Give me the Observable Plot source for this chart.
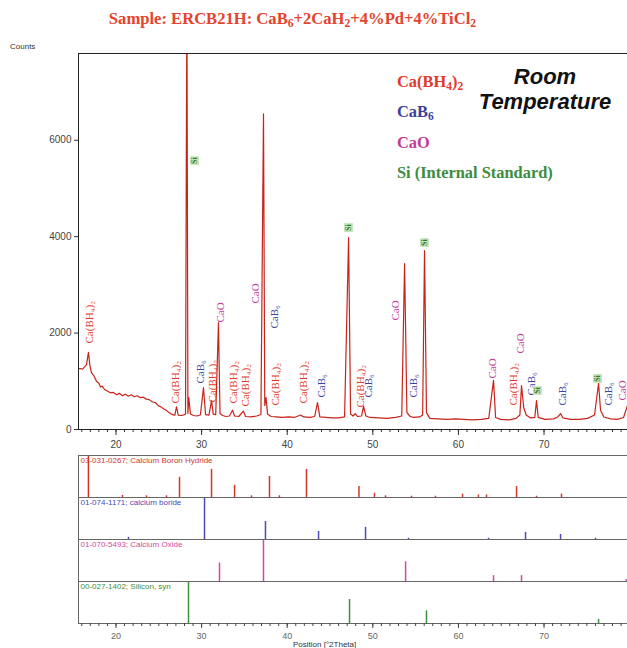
<!DOCTYPE html>
<html><head><meta charset="utf-8">
<script src="https://cdn.jsdelivr.net/npm/d3@7"></script>
<script src="https://cdn.jsdelivr.net/npm/@observablehq/plot@0.6"></script>
<style>
body{margin:0;background:#fff;width:627px;height:648px;position:relative;overflow:hidden;font-family:"Liberation Sans",Arial,sans-serif}
.abs{position:absolute;white-space:nowrap}
#title{left:0;width:585px;top:9px;text-align:center;font:bold 16.6px "Liberation Serif",serif;color:#e4432d}
#title sub,.leg sub{font-size:70%;vertical-align:-0.25em;line-height:0}
#counts{left:10px;top:42px;font-size:8px;color:#333}
.leg{left:397px;font:bold 16.4px "Liberation Serif",serif;line-height:18px}
.rt{left:465px;width:160px;text-align:center;font:italic bold 22px "Liberation Sans",Arial,sans-serif;color:#111;line-height:24px}
#xlab{left:293px;top:640px;font-size:8px;color:#333}
#main{left:0;top:40px}
#ref{left:0;top:454px}
</style></head>
<body>
<div id="title" class="abs">Sample: ERCB21H: CaB<sub>6</sub>+2CaH<sub>2</sub>+4%Pd+4%TiCl<sub>2</sub></div>
<div id="counts" class="abs">Counts</div>
<div class="abs leg" style="top:73px;color:#e03a2c">Ca(BH<sub>4</sub>)<sub>2</sub></div>
<div class="abs leg" style="top:103px;color:#3c3f9c">CaB<sub>6</sub></div>
<div class="abs leg" style="top:134px;color:#c23a98">CaO</div>
<div class="abs leg" style="top:164px;color:#3d8c3d">Si (Internal Standard)</div>
<div class="abs rt" style="top:65px">Room</div>
<div class="abs rt" style="top:90px">Temperature</div>
<div id="main" class="abs"></div>
<div id="ref" class="abs"></div>
<div id="xlab" class="abs">Position [°2Theta]</div>
<script>
// ---- measured pattern (2θ, counts) ----
const patternTheta = [15.62,15.86,16.1,16.31,16.55,16.78,16.95,17.13,17.4,17.72,18.0,18.19,18.4,18.66,18.99,19.35,19.69,20.06,20.39,20.76,21.09,21.46,21.79,22.16,22.48,22.86,23.18,23.56,23.88,24.27,24.58,24.97,25.27,25.55,25.87,26.13,26.37,26.6,26.87,27.07,27.27,27.57,27.87,28.12,28.28,28.4,28.5,28.7,29.06,29.46,29.86,30.22,30.46,30.86,31.16,31.36,31.65,31.97,32.15,32.45,32.85,33.25,33.61,33.85,34.34,34.89,35.14,35.74,36.43,36.93,37.23,37.38,37.53,37.7,38.12,38.72,39.42,40.22,40.82,41.56,41.92,42.71,43.21,43.54,43.81,44.51,45.2,46.0,46.7,47.17,47.4,47.7,47.95,48.2,48.69,48.91,49.19,49.69,50.69,51.68,52.68,53.38,53.71,53.98,54.37,54.77,55.47,55.82,56.04,56.27,56.66,57.66,58.66,59.65,60.65,61.65,62.64,63.54,64.1,64.34,64.93,65.93,66.73,67.18,67.37,67.63,67.92,68.42,68.92,69.12,69.32,70.12,71.11,71.61,71.93,72.21,73.11,74.1,75.1,75.9,76.37,76.6,76.99,77.79,78.59,79.29,79.75];
const patternCounts = [1260,1265,1250,1300,1340,1600,1330,1180,1120,1000,960,880,900,830,800,760,770,720,750,700,730,690,720,680,700,660,670,630,620,570,560,490,470,430,400,360,330,310,300,470,300,290,300,320,9200,330,660,320,290,280,300,870,310,300,600,320,310,2220,330,290,270,280,400,280,270,380,270,260,280,310,6550,500,660,320,270,260,250,260,250,300,260,250,270,560,260,250,240,240,260,3980,320,280,330,270,280,480,280,250,240,230,250,280,3440,350,270,250,260,300,3710,350,230,220,210,220,210,200,210,230,1020,250,210,200,230,300,910,450,300,240,250,600,250,210,220,260,330,240,210,210,230,300,960,400,260,220,210,250,500];

// ---- peak annotations ----
const labelPhase  = ["CaBH4","CaBH4","CaB6","CaBH4","CaO","CaBH4","CaBH4","CaO","CaB6","CaBH4","CaBH4","CaB6","CaBH4","CaB6","CaO","CaB6","CaO","CaBH4","CaO","CaB6","CaB6","CaB6","CaO"];
const labelTheta  = [16.90,26.95,29.87,31.28,32.21,33.73,35.13,36.29,38.52,38.64,41.90,44.01,48.56,49.50,52.65,54.75,63.98,66.44,67.26,68.54,72.16,77.53,79.17];
const labelCounts = [1784,539,954,560,2219,539,477,2613,2095,498,539,664,456,664,2261,664,1058,498,1576,705,498,498,601];
const siTheta  = [29.17,47.16,56.04,69.24,76.25];
const siCounts = [5579,4189,3878,809,1058];

// ---- reference patterns (2θ, relative intensity) ----
const refPhases = ["CaBH4","CaB6","CaO","Si"];
const refTitles = ["03-031-0267; Calcium Boron Hydride","01-074-1171; calcium boride","01-070-5493; Calcium Oxide","00-027-1402; Silicon, syn"];
const refCaBH4Theta = [16.78,20.76,23.56,25.90,27.42,31.16,33.85,35.83,37.93,39.09,42.25,48.38,50.19,51.48,54.52,57.32,60.48,62.34,63.28,66.79,69.12,72.04];
const refCaBH4Int   = [100,5,4,4,48,67,29,4,50,4,67,26,10,4,3,3,8,6,6,26,3,8];
const refCaB6Theta = [21.46,30.34,37.46,43.66,49.15,54.17,63.52,67.84,71.93,76.02];
const refCaB6Int   = [5,100,43,19,29,3,3,17,12,3];
const refCaOTheta = [32.09,37.23,53.83,64.10,67.37,79.63];
const refCaOInt   = [44,100,47,14,14,5];
const refSiTheta = [28.47,47.28,56.27,76.37];
const refSiInt   = [100,57,30,10];

const xMajor = [20,30,40,50,60,70];
const xMinor = d3.range(16,80);
const yTicks = [0,2000,4000,6000];

// ---- styling ----
const names  = {CaBH4:"Ca(BH₄)₂", CaB6:"CaB₆", CaO:"CaO", Si:"Si"};
const colors = {CaBH4:"#e2382a", CaB6:"#3c3f9c", CaO:"#c23a98", Si:"#3d8c3d"};
const stickColors = {CaBH4:"#d4352a", CaB6:"#4a4ab8", CaO:"#d24aa0", Si:"#3f8f3f"};
const xDomain = [15.62, 79.75];

const pattern = patternTheta.map((t,i)=>({t, c: patternCounts[i]}));
const labels = labelTheta.map((t,i)=>({t, c: labelCounts[i], phase: labelPhase[i]}));
const si = siTheta.map((t,i)=>({t, c: siCounts[i]}));

const main = Plot.plot({
  width: 627, height: 415, marginLeft: 78, marginRight: 0, marginTop: 13, marginBottom: 26,
  style: {fontFamily: "Liberation Sans, Arial, sans-serif", fontSize: "10px", color: "#444", background: "transparent", overflow: "visible"},
  x: {domain: xDomain},
  y: {domain: [0, 7800]},
  marks: [
    Plot.axisX({ticks: xMinor, tickSize: 3, text: null, label: null, stroke: "#333"}),
    Plot.axisX({ticks: xMajor, tickSize: 6, tickPadding: 5, tickFormat: d => String(d), label: null, stroke: "#333"}),
    Plot.axisY({ticks: yTicks, tickSize: 4, tickPadding: 3, tickFormat: d3.format("d"), label: null, stroke: "#333"}),
    Plot.line(pattern, {x: "t", y: "c", stroke: "#c8231a", strokeWidth: 1.2, clip: true}),
    Plot.frame({stroke: "#222"}),
    Plot.text(labels, {x: "t", y: "c", text: d => names[d.phase], fill: d => colors[d.phase], rotate: -90, textAnchor: "start", lineAnchor: "middle", fontFamily: "Liberation Serif, serif", fontSize: 11}),
    Plot.dot(si, {x: "t", y: "c", symbol: "square", r: 5, fill: "#c6e6bc", stroke: null}),
    Plot.text(si, {x: "t", y: "c", text: () => "Si", rotate: -90, fill: "#2f7a2f", fontFamily: "Liberation Serif, serif", fontSize: 8, fontWeight: "bold"})
  ]
});
document.getElementById("main").appendChild(main);

const sticks = [
  ...refCaBH4Theta.map((t,i)=>({t, i: refCaBH4Int[i], phase: "CaBH4"})),
  ...refCaB6Theta.map((t,i)=>({t, i: refCaB6Int[i], phase: "CaB6"})),
  ...refCaOTheta.map((t,i)=>({t, i: refCaOInt[i], phase: "CaO"})),
  ...refSiTheta.map((t,i)=>({t, i: refSiInt[i], phase: "Si"}))
];
const refLab = refPhases.map((p,i)=>({phase: p, title: refTitles[i]}));

const ref = Plot.plot({
  width: 627, height: 194, marginLeft: 78, marginRight: 0, marginTop: 1, marginBottom: 25,
  style: {fontFamily: "Liberation Sans, Arial, sans-serif", fontSize: "9px", color: "#666", background: "transparent"},
  x: {domain: xDomain},
  y: {domain: [0, 100], axis: null},
  fy: {domain: refPhases, padding: 0, axis: null},
  marks: [
    Plot.ruleX(sticks, {x: "t", y1: 0, y2: "i", fy: "phase", stroke: d => stickColors[d.phase], strokeWidth: 1.5}),
    Plot.frame({stroke: "#666"}),
    Plot.text(refLab, {fy: "phase", frameAnchor: "top-left", text: "title", fill: d => stickColors[d.phase], dx: 2, dy: 2, fontSize: 8}),
    Plot.axisX({ticks: xMinor, tickSize: 3, text: null, label: null, stroke: "#444"}),
    Plot.axisX({ticks: xMajor, tickSize: 5, tickPadding: 4, tickFormat: d => String(d), label: null, stroke: "#444"})
  ]
});
document.getElementById("ref").appendChild(ref);
</script>
</body></html>
